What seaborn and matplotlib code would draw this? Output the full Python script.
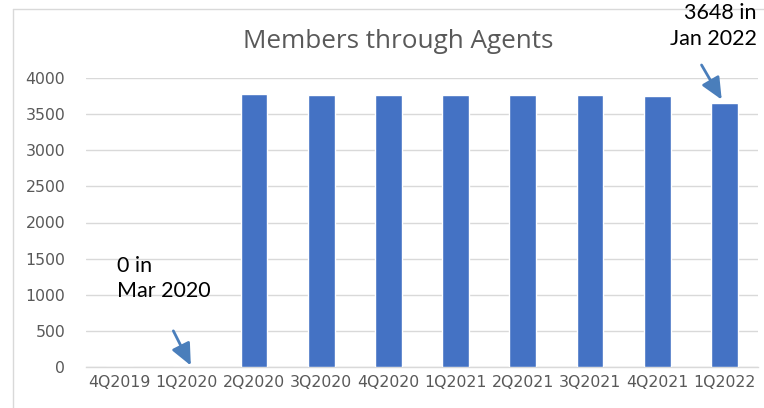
import matplotlib
matplotlib.use("Agg")
import matplotlib.pyplot as plt
import seaborn as sns
import pandas as pd
from matplotlib.lines import Line2D

quarters = ["4Q2019", "1Q2020", "2Q2020", "3Q2020", "4Q2020",
            "1Q2021", "2Q2021", "3Q2021", "4Q2021", "1Q2022"]
members = [0, 0, 3775, 3760, 3760, 3760, 3760, 3760, 3750, 3648]
y_ticks = [0, 500, 1000, 1500, 2000, 2500, 3000, 3500, 4000]

df = pd.DataFrame({"quarter": quarters, "members": members})

sns.set_theme(style="white")
plt.rcParams['font.family'] = ['DejaVu Sans']

W, H = 764, 408
fig = plt.figure(figsize=(W / 100, H / 100), dpi=100)
ax = fig.add_axes([86 / W, 1 - 367 / H, (758 - 86) / W, (367 - 78) / H])

sns.barplot(data=df, x="quarter", y="members", color="#4472C4",
            saturation=1, width=0.4, ax=ax, zorder=3)

ax.set_ylim(0, 4000)
ax.set_xlim(-0.5, len(quarters) - 0.5)
ax.set_yticks(y_ticks)
ax.set_yticklabels([str(t) for t in y_ticks])
ax.yaxis.grid(True, color="#d9d9d9", linewidth=1, zorder=0)
ax.set_axisbelow(True)
for s in ["top", "right", "left"]:
    ax.spines[s].set_visible(False)
ax.spines["bottom"].set_color("#d9d9d9")
ax.spines["bottom"].set_linewidth(1)
ax.set_xlabel("")
ax.set_ylabel("")
ax.tick_params(axis="y", length=0, pad=15, labelsize=11.3, labelcolor="#595959")
ax.tick_params(axis="x", length=0, pad=6, labelsize=11.3, labelcolor="#595959")

fig.text(398 / W, 1 - 42 / H, "Members through Agents", ha="center", va="center",
         fontsize=18.8, color="#595959", family=["Open Sans", "DejaVu Sans"])

ax.text(-0.04, 1540, "0 in\nMar 2020", ha="left", va="top", fontsize=15.5,
        color="black", family=["Lato", "DejaVu Sans"], linespacing=1.35)
fig.text(757 / W, 1 - 3 / H, "3648 in\nJan 2022", ha="right", va="top",
         fontsize=15.5, color="black", family=["Lato", "DejaVu Sans"],
         linespacing=1.35)

arrow_style = dict(arrowstyle="-|>,head_length=1.1,head_width=0.5",
                   color="#4a7ebb", lw=2, shrinkA=0, shrinkB=0)
ax.annotate("", xy=(1.06, 20), xytext=(0.80, 500),
            arrowprops=arrow_style, annotation_clip=False)
ax.annotate("", xy=(8.96, 3700), xytext=(8.66, 4180),
            arrowprops=arrow_style, annotation_clip=False)

# outer chart frame
fig.add_artist(Line2D([13 / W, 13 / W], [0, 1 - 9 / H], color="#d9d9d9", lw=1))
fig.add_artist(Line2D([13 / W, 1], [1 - 9 / H, 1 - 9 / H], color="#d9d9d9", lw=1))

fig.savefig("out.png", dpi=100)
